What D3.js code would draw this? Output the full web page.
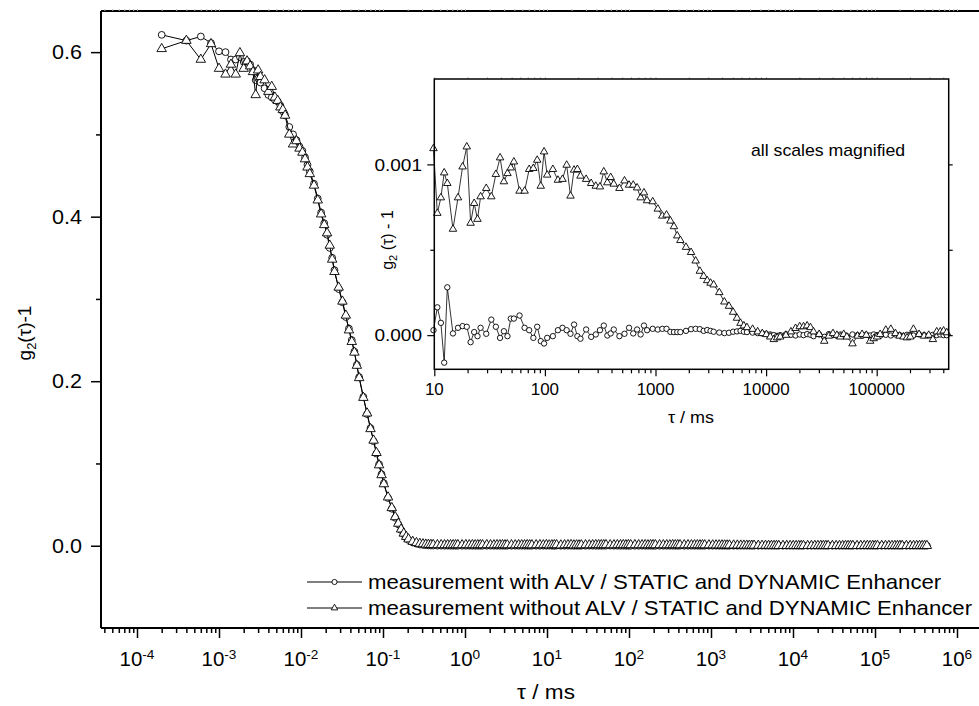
<!DOCTYPE html>
<html><head><meta charset="utf-8">
<script src="https://cdn.jsdelivr.net/npm/d3@7"></script>
<style>
body{margin:0;background:#fff}
svg{display:block}
text{font-family:"Liberation Sans",Arial,Helvetica,sans-serif;fill:#000}
</style>
</head><body>
<svg id="c" width="979" height="706"></svg>
<script>
// ---------------- DATA ----------------
// lag times tau (ms), ALV multi-tau channels
const tau = [
0.0002,0.0004,0.0006,0.0008,0.001,0.0012,0.0014,0.0016,0.0018,0.002,0.0022,0.0024,0.0026,0.0028,0.003,0.0032,
0.0036,0.004,0.0044,0.0048,0.0052,0.0056,0.006,0.0064,
0.0072,0.008,0.0088,0.0096,0.0104,0.0112,0.012,0.0128,
0.0144,0.016,0.0176,0.0192,0.0208,0.0224,0.024,0.0256,
0.0288,0.032,0.0352,0.0384,0.0416,0.0448,0.048,0.0512,
0.0576,0.064,0.0704,0.0768,0.0832,0.0896,0.096,0.1024,
0.1152,0.128,0.1408,0.1536,0.1664,0.1792,0.192,0.2048,
0.2304,0.256,0.2816,0.3072,0.3328,0.3584,0.384,0.4096,
0.4608,0.512,0.5632,0.6144,0.6656,0.7168,0.768,0.8192,
0.9216,1.024,1.1264,1.2288,1.3312,1.4336,1.536,1.6384,
1.8432,2.048,2.2528,2.4576,2.6624,2.8672,3.072,3.2768,
3.6864,4.096,4.5056,4.9152,5.3248,5.7344,6.144,6.5536,
7.3728,8.192,9.0112,9.8304,10.65,11.47,12.29,13.11,
14.75,16.38,18.02,19.66,21.30,22.94,24.58,26.21,
29.49,32.77,36.04,39.32,42.60,45.88,49.15,52.43,
58.98,65.54,72.09,78.64,85.20,91.75,98.30,104.9,
118.0,131.1,144.2,157.3,170.4,183.5,196.6,209.7,
235.9,262.1,288.4,314.6,340.8,367.0,393.2,419.4,
471.9,524.3,576.7,629.1,681.6,734.0,786.4,838.9,
943.7,1049,1153,1258,1363,1468,1573,1678,
1887,2097,2307,2517,2726,2936,3146,3355,
3775,4194,4614,5033,5453,5872,6291,6711,
7550,8389,9227,10066,10905,11744,12583,13422,
15099,16777,18455,20133,21810,23488,25166,26844,
30199,33554,36910,40265,43621,46976,50332,53687,
60398,67109,73820,80531,87242,93952,100663,107374,
120796,134218,147640,161061,174483,187905,201327,214748,
241592,268435,295279,322123,348966,375810,402653,429497
];

// g2(tau)-1, measurement WITH enhancer (circles): first 107 channels (up to 9.01 ms)
const withHead = [
0.621,0.614,0.619,0.611,0.601,0.600,0.591,0.591,0.594,0.588,0.589,0.585,0.578,0.566,0.568,0.563,
0.556,0.548,0.545,0.542,0.540,0.535,0.528,0.523,
0.509,0.500,0.493,0.485,0.480,0.472,0.463,0.455,
0.440,0.422,0.405,0.392,0.378,0.362,0.350,0.335,
0.312,0.296,0.278,0.264,0.250,0.236,0.220,0.205,
0.181,0.160,0.143,0.127,0.112,0.099,0.087,0.076,
0.058,0.045,0.034,0.026,0.019,0.014,0.010,0.007,
0.004,0.0025,0.0015,0.001,0.0006,0.0004,0.0003,0.0002,
0.0001,0.0001,0.00005,0.00005,0.00003,0.00003,0.00002,0.00002,
0.00002,0.00001,0.00002,0.0,0.00001,0.00002,0.0,0.00001,
0.00002,0.00003,0.0,0.00001,0.00002,0.00003,0.00001,0.00002,
0.00003,0.00004,0.00002,0.00005,0.00003,0.00001,0.00004,0.00002,
0.00003,0.00002,0.00005
];
// same series from 9.83 ms on, in units of 1e-3 (values shown magnified in the inset)
const withTailMilli = [
0.029,0.163,0.072,-0.161,0.280,
0.010,0.043,0.053,0.049,-0.041,0.018,-0.006,0.043,
0.008,0.091,0.049,-0.016,0.023,-0.006,0.097,0.097,
0.115,0.043,0.029,-0.016,0.049,-0.035,-0.049,-0.016,
-0.006,0.029,0.043,0.029,0.008,0.062,-0.006,-0.021,
0.033,-0.010,0.004,0.029,0.056,-0.002,0.010,0.033,
-0.006,0.008,0.043,0.010,0.033,0.004,0.056,0.029,
0.037,0.033,0.037,0.037,0.019,0.018,0.018,0.018,
0.025,0.035,0.037,0.035,0.025,0.030,0.025,0.020,
0.015,0.012,0.014,0.020,0.022,0.025,0.020,0.018,
0.015,0.012,0.010,0.006,0.004,0.000,-0.004,0.000,
0.005,0.002,-0.002,0.004,0.000,0.006,0.002,-0.006,
0.004,-0.010,0.006,0.002,-0.004,0.004,0.000,-0.006,
0.004,0.000,-0.004,0.002,-0.002,0.004,0.000,-0.004,
0.002,-0.002,0.004,0.000,-0.004,0.002,0.000,-0.002,
0.004,0.000,-0.002,0.002,0.000,0.004,0.000,0.000
];

// g2(tau)-1, measurement WITHOUT enhancer (triangles)
const withoutHead = [
0.604,0.614,0.591,0.610,0.580,0.573,0.585,0.573,0.599,0.580,0.589,0.583,0.576,0.548,0.578,0.570,
0.566,0.552,0.558,0.545,0.541,0.533,0.530,0.523,
0.500,0.488,0.492,0.483,0.478,0.470,0.460,0.452,
0.438,0.420,0.403,0.390,0.380,0.365,0.348,0.333,
0.314,0.297,0.280,0.262,0.248,0.235,0.219,0.204,
0.180,0.161,0.142,0.128,0.113,0.098,0.086,0.075,
0.059,0.046,0.035,0.027,0.020,0.015,0.011,0.008,
0.005,0.0035,0.0025,0.002,0.0016,0.0014,0.0012,0.0011,
0.0010,0.0010,0.0009,0.0010,0.0009,0.0010,0.0009,0.0010,
0.0009,0.0010,0.0009,0.0010,0.0009,0.0009,0.0010,0.0009,
0.0010,0.0009,0.0008,0.0010,0.0009,0.0010,0.0008,0.0009,
0.0009,0.0008,0.0010,0.0009,0.0008,0.0010,0.0009,0.0008,
0.0009,0.0010,0.0008
];
const withoutTailMilli = [
1.093,0.714,0.805,0.951,0.889,
0.621,0.805,0.986,1.103,0.656,0.772,0.679,0.811,
0.860,0.811,0.942,1.039,0.899,0.947,0.980,1.015,
0.844,0.844,0.971,0.977,1.025,0.873,1.074,0.938,
0.971,0.908,0.913,0.996,0.815,0.967,0.971,0.932,
0.913,0.889,0.873,0.869,0.957,0.893,0.924,0.885,
0.860,0.904,0.879,0.879,0.863,0.805,0.834,0.788,
0.782,0.739,0.698,0.704,0.669,0.636,0.582,0.555,
0.515,0.485,0.435,0.375,0.345,0.320,0.305,0.295,
0.250,0.195,0.170,0.135,0.100,0.070,0.055,0.045,
0.035,0.020,0.010,0.004,-0.010,-0.025,-0.015,-0.010,
0.000,0.020,0.040,0.050,0.050,0.055,0.045,0.020,
0.005,-0.035,-0.005,0.010,0.000,-0.010,0.005,-0.010,
-0.050,-0.005,0.005,0.000,-0.035,-0.020,-0.010,0.005,
0.030,0.035,0.010,-0.005,-0.010,-0.015,-0.010,0.035,
0.005,-0.005,0.000,-0.025,0.020,0.020,0.025,0.015
];

const mainYTicks = [0.0, 0.2, 0.4, 0.6];
const mainYMinor = [0.1, 0.3, 0.5];
const mainXExponents = [-4,-3,-2,-1,0,1,2,3,4,5,6];
const insetXTicks = [10, 100, 1000, 10000, 100000];
const insetXLabels = ["10","100","1000","10000","100000"];
const insetYTicks = [0.000, 0.001];
const insetYMinor = [0.0005];
const legendLabels = [
  "measurement with ALV / STATIC and DYNAMIC Enhancer",
  "measurement without ALV / STATIC and DYNAMIC Enhancer"
];

// ---------------- BUILD ----------------
const withVals = withHead.concat(withTailMilli.map(v => v * 1e-3));
const withoutVals = withoutHead.concat(withoutTailMilli.map(v => v * 1e-3));
const sWith = tau.map((t, i) => ({t, v: withVals[i]}));
const sWithout = tau.map((t, i) => ({t, v: withoutVals[i]}));

const svg = d3.select("#c");
svg.append("rect").attr("width", 979).attr("height", 706).attr("fill", "#fff");

// text helper: horizontally widened glyphs (the reference font runs wide)
function txt(g, x, y, s, size, anchor, sx, dy) {
  return g.append("text")
    .attr("transform", `translate(${x},${y}) scale(${sx},1)`)
    .attr("text-anchor", anchor).attr("font-size", size)
    .attr("dy", dy || null).text(s);
}

// main scales
const L = 101, T = 11, B = 628, R = 992;
const x = d3.scaleLog().domain([1e-4, 1e6]).range([137, 957]);
const y = d3.scaleLinear().domain([-0.1, 0.65]).range([B, T]);

function logTicks(scale, lo, hi) {
  const out = [];
  for (let e = -6; e <= 7; e++) for (let m = 1; m <= 9; m++) {
    const v = m * Math.pow(10, e);
    const px = scale(v);
    if (px >= lo - 0.5 && px <= hi + 0.5) out.push(v);
  }
  return out;
}
const isMajor = v => Math.abs(Math.log10(v) - Math.round(Math.log10(v))) < 1e-9;

const gMain = svg.append("g");
gMain.append("line").attr("x1", L).attr("x2", R).attr("y1", B).attr("y2", B).attr("stroke", "#000").attr("stroke-width", 2);
gMain.append("line").attr("x1", L).attr("x2", L).attr("y1", T).attr("y2", B).attr("stroke", "#000").attr("stroke-width", 2);
gMain.append("line").attr("x1", L).attr("x2", R).attr("y1", T).attr("y2", T).attr("stroke", "#000").attr("stroke-width", 2);

const mxTicks = logTicks(x, L, 979);
const mxMajor = mxTicks.filter(isMajor), mxMinor = mxTicks.filter(v => !isMajor(v));
const axB1 = gMain.append("g").attr("transform", `translate(0,${B})`)
  .call(d3.axisBottom(x).tickValues(mxMajor).tickSize(10).tickFormat(""));
const axB2 = gMain.append("g").attr("transform", `translate(0,${B})`)
  .call(d3.axisBottom(x).tickValues(mxMinor).tickSize(5).tickFormat(""));
const axT = gMain.append("g").attr("transform", `translate(0,${T})`)
  .call(d3.axisTop(x).tickValues(mxTicks).tickSize(2).tickFormat(""));
[axB1, axB2, axT].forEach(a => { a.select(".domain").remove(); a.selectAll("line").attr("stroke-width", 1.5); });
axT.selectAll("line").attr("stroke", "#bbb").attr("stroke-width", 1);

// x tick labels 10^n
mainXExponents.forEach(e => {
  const t = txt(gMain, x(Math.pow(10, e)), 666, null, 19.5, "middle", 1.05);
  t.append("tspan").text("10");
  t.append("tspan").attr("dy", -7).attr("font-size", 13).text(String(e));
});

const axL1 = gMain.append("g").attr("transform", `translate(${L},0)`)
  .call(d3.axisLeft(y).tickValues(mainYTicks).tickSize(10).tickFormat(""));
const axL2 = gMain.append("g").attr("transform", `translate(${L},0)`)
  .call(d3.axisLeft(y).tickValues(mainYMinor).tickSize(5).tickFormat(""));
[axL1, axL2].forEach(a => { a.select(".domain").remove(); a.selectAll("line").attr("stroke-width", 1.5); });
mainYTicks.forEach(v => txt(gMain, 82, y(v), d3.format(".1f")(v), 20, "end", 1.08, "0.36em"));

// titles
txt(gMain, 546, 699, "τ / ms", 20, "middle", 1.13);
const yt = gMain.append("text").attr("transform", "translate(31,333) rotate(-90)").attr("text-anchor", "middle").attr("font-size", 19);
yt.append("tspan").text("g");
yt.append("tspan").attr("dy", 5).attr("font-size", 13).text("2");
yt.append("tspan").attr("dy", -5).text("(τ)-1");

// series drawing
const circ = r => d3.symbol(d3.symbolCircle, Math.PI * r * r);
const tri = s => d3.symbol(d3.symbolTriangle, Math.sqrt(3) / 4 * s * s);

function drawSeries(g, data, xs, ys, sym, lw) {
  g.append("path").datum(data)
    .attr("d", d3.line().x(d => xs(d.t)).y(d => ys(d.v)))
    .attr("fill", "none").attr("stroke", "#000").attr("stroke-width", lw);
  g.selectAll(null).data(data).enter().append("path")
    .attr("transform", d => `translate(${xs(d.t)},${ys(d.v)})`)
    .attr("d", sym()).attr("fill", "#fff").attr("stroke", "#000").attr("stroke-width", 0.9);
}
const gData = svg.append("g");
drawSeries(gData, sWith, x, y, circ(3.4), 1);
drawSeries(gData, sWithout, x, y, tri(9.5), 1);

// legend
const legRows = [582, 608];
const legSyms = [circ(2.6), tri(6.5)];
legendLabels.forEach((lab, i) => {
  const g = svg.append("g");
  g.append("line").attr("x1", 307).attr("x2", 362).attr("y1", legRows[i]).attr("y2", legRows[i]).attr("stroke", "#000").attr("stroke-width", 1);
  g.append("path").attr("transform", `translate(334.5,${legRows[i]})`).attr("d", legSyms[i]()).attr("fill", "#fff").attr("stroke", "#000").attr("stroke-width", 0.9);
  txt(g, 368, legRows[i], lab, 20, "start", 1.11, "0.36em");
});

// ---------------- INSET ----------------
const IL = 434.3, IR = 948.7, IT = 79, IB = 369.3;
const ix = d3.scaleLog().domain([10, Math.pow(10, 5.651)]).range([IL, IR]);
const iy = d3.scaleLinear().domain([-0.0002, 0.0015]).range([IB, IT]);
const gIn = svg.append("g");
gIn.append("rect").attr("x", IL).attr("y", IT).attr("width", IR - IL).attr("height", IB - IT).attr("fill", "#fff");

const ixTicks = logTicks(ix, IL, IR);
const ixMajor = ixTicks.filter(isMajor), ixMinor = ixTicks.filter(v => !isMajor(v));
const ia = [];
ia.push(gIn.append("g").attr("transform", `translate(0,${IB})`).call(d3.axisBottom(ix).tickValues(ixMajor).tickSize(7).tickFormat("")));
ia.push(gIn.append("g").attr("transform", `translate(0,${IB})`).call(d3.axisBottom(ix).tickValues(ixMinor).tickSize(4).tickFormat("")));
const iaTop = gIn.append("g").attr("transform", `translate(0,${IT})`).call(d3.axisTop(ix).tickValues(ixTicks).tickSize(2).tickFormat(""));
ia.push(iaTop);
ia.push(gIn.append("g").attr("transform", `translate(${IL},0)`).call(d3.axisLeft(iy).tickValues(insetYTicks).tickSize(7).tickFormat("")));
ia.push(gIn.append("g").attr("transform", `translate(${IL},0)`).call(d3.axisLeft(iy).tickValues(insetYMinor).tickSize(4).tickFormat("")));
ia.push(gIn.append("g").attr("transform", `translate(${IR},0)`).call(d3.axisRight(iy).tickValues(insetYTicks.concat(insetYMinor)).tickSize(4).tickFormat("")));
ia.forEach(a => { a.select(".domain").remove(); a.selectAll("line").attr("stroke-width", 1.2); });
iaTop.selectAll("line").attr("stroke", "#bbb").attr("stroke-width", 1);

insetXTicks.forEach((v, i) => txt(gIn, ix(v), 395, insetXLabels[i], 16, "middle", 1.06));
insetYTicks.forEach(v => txt(gIn, 422, iy(v), d3.format(".3f")(v), 17, "end", 1.12, "0.36em"));
txt(gIn, 691, 423, "τ / ms", 17, "middle", 1.06);
const iyt = gIn.append("text").attr("transform", "translate(393,240) rotate(-90)").attr("text-anchor", "middle").attr("font-size", 16);
iyt.append("tspan").text("g");
iyt.append("tspan").attr("dy", 4).attr("font-size", 11).text("2");
iyt.append("tspan").attr("dy", -4).text(" (τ) - 1");
txt(gIn, 751, 156, "all scales magnified", 17, "start", 1.04);

const inWith = sWith.filter(d => d.t >= 9.5);
const inWithout = sWithout.filter(d => d.t >= 9.5);
const gInData = gIn.append("g");
drawSeries(gInData, inWith, ix, iy, circ(2.7), 0.8);
drawSeries(gInData, inWithout, ix, iy, tri(7.5), 0.8);

gIn.append("rect").attr("x", IL).attr("y", IT).attr("width", IR - IL).attr("height", IB - IT)
  .attr("fill", "none").attr("stroke", "#000").attr("stroke-width", 1.5);
</script>
</body></html>
